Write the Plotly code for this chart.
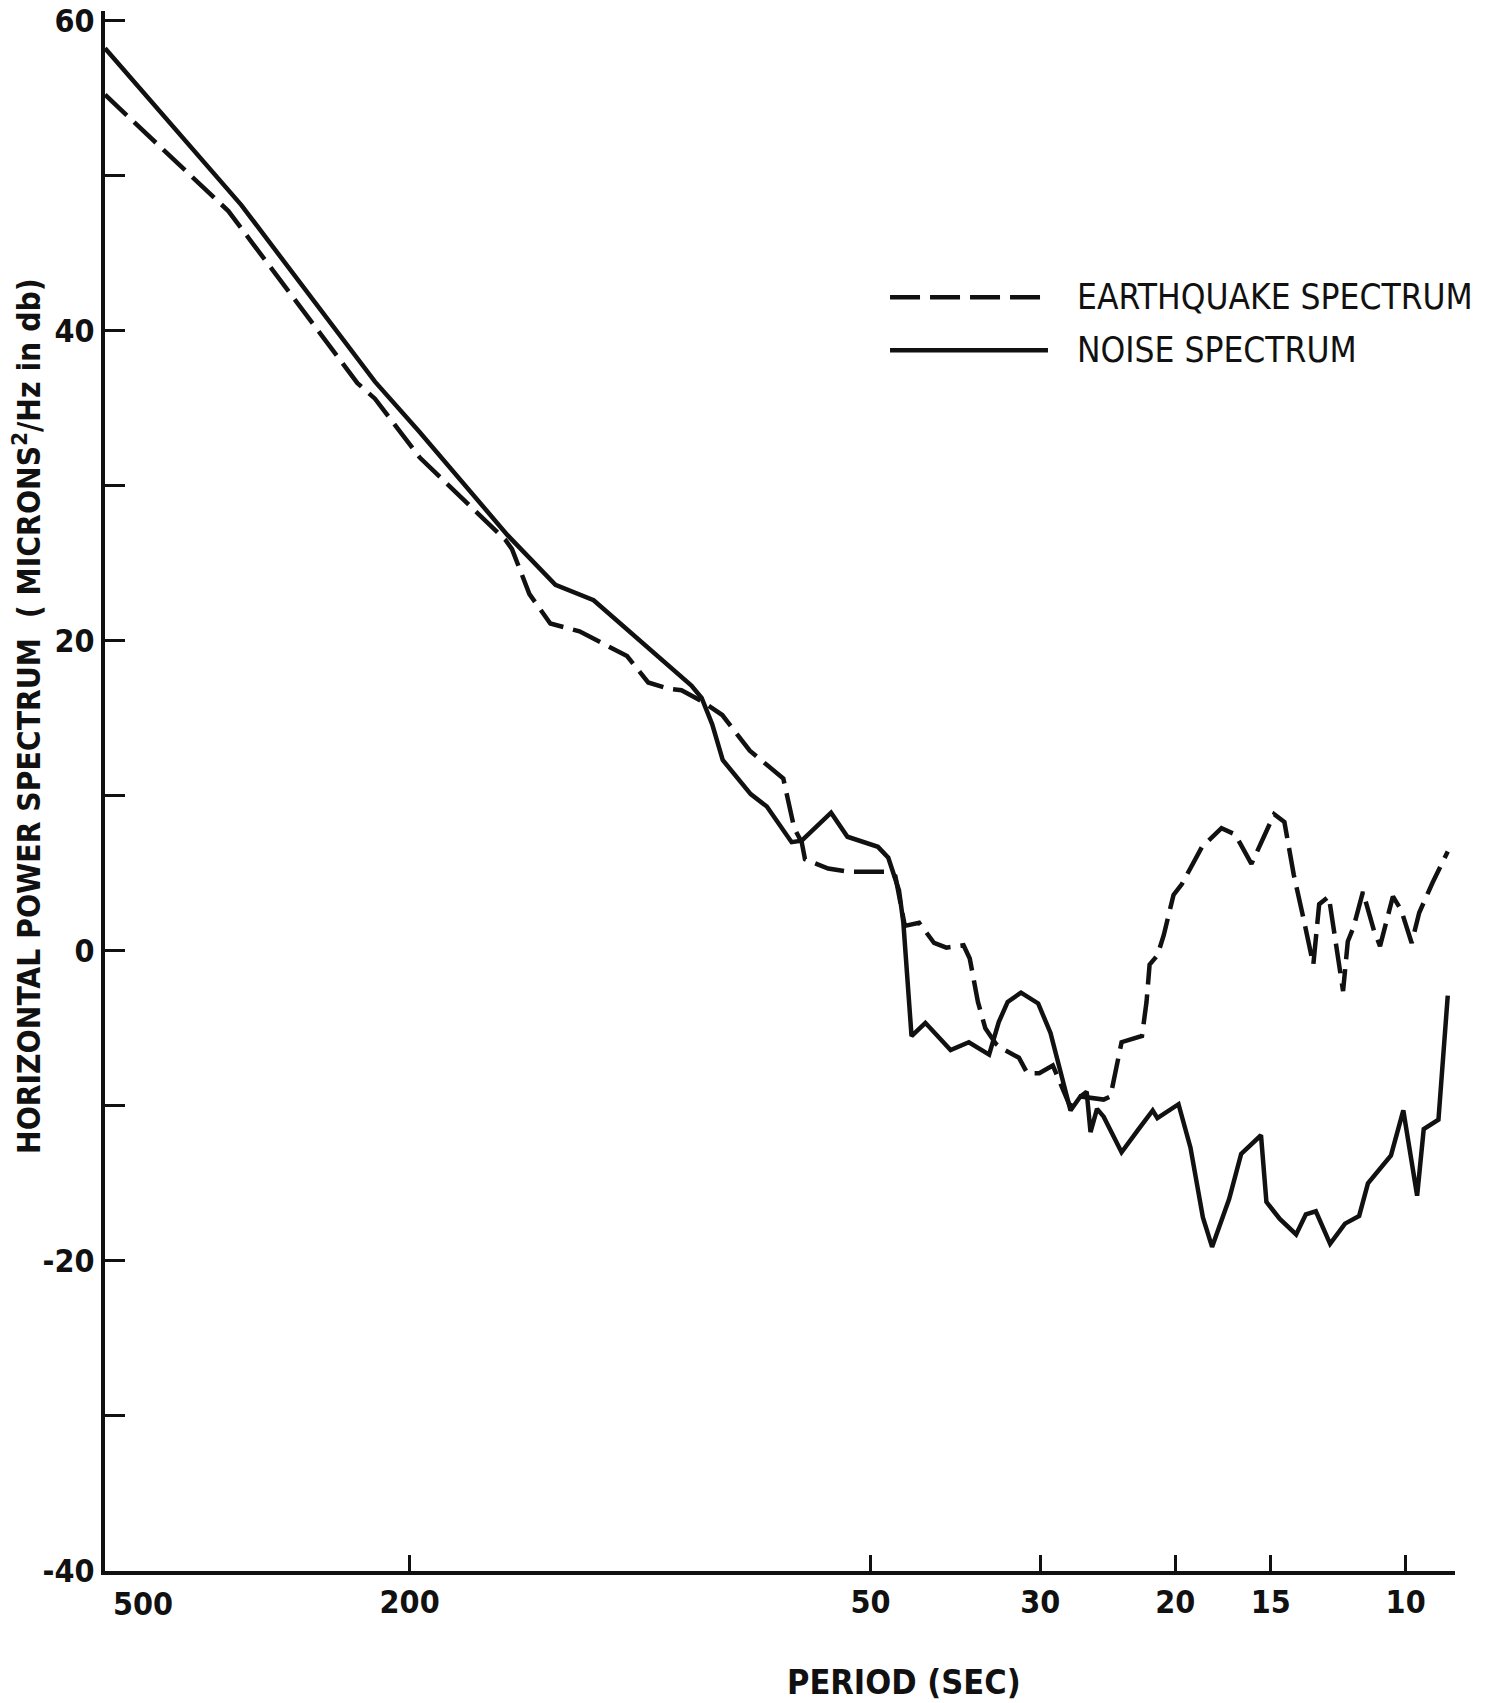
import math
import plotly.graph_objects as go

# ---- data (period in seconds, power in dB) ----
eq_period = [500, 345, 234, 222, 194, 150, 147, 139.5, 131, 120, 104, 97.6, 91.8, 88.3, 83.1,
             78.1, 71.9, 65.0, 62.9, 61.5, 60.9, 56.8, 53.5, 47.8, 46.4, 45.1, 43.2, 41.3,
             39.8, 37.8, 37.1, 36.2, 35.4, 34.3, 33.7, 32.0, 31.2, 30.1, 28.9, 27.4, 26.6,
             24.8, 24.3, 23.5, 22.1, 21.8, 21.6, 21.1, 20.7, 20.1, 19.6, 18.45, 17.4, 16.7,
             15.9, 14.85, 14.4, 14.0, 13.6, 13.2, 12.97, 12.6, 12.07, 11.9, 11.7, 11.37,
             11.0, 10.8, 10.39, 10.13, 9.82, 9.6, 9.22, 8.81]
eq_db = [55.2, 47.7, 36.6, 35.6, 31.8, 26.5, 25.9, 23.0, 21.1, 20.6, 19.0, 17.3, 16.9, 16.8, 16.1,
         15.2, 12.9, 11.1, 7.9, 7.0, 5.9, 5.3, 5.1, 5.1, 4.8, 1.6, 1.8, 0.5,
         0.2, 0.35, -0.5, -3.3, -5.0, -6.0, -6.3, -6.9, -7.9, -7.9, -7.4, -10.1, -9.4,
         -9.6, -9.4, -5.9, -5.5, -3.3, -0.9, -0.3, 1.0, 3.6, 4.3, 6.7, 7.9, 7.5,
         5.6, 8.8, 8.3, 4.9, 2.1, -0.9, 3.0, 3.5, -2.6, 0.6, 1.5, 3.8,
         1.3, 0.3, 3.5, 2.6, 0.5, 2.45, 4.4, 6.4]

noise_period = [500, 332, 222, 194.5, 149, 129, 115, 106, 85.7, 83.1, 80.5, 78.0, 71.7, 68.3,
                63.4, 61.5, 56.3, 53.6, 48.9, 47.4, 45.9, 45.3, 44.2, 42.4, 39.3, 37.2, 35.0,
                34.0, 33.1, 31.8, 30.2, 29.1, 28.3, 27.4, 26.6, 26.1, 25.8, 25.3, 24.8, 23.5,
                22.4, 21.4, 21.1, 19.8, 19.1, 18.4, 17.9, 17.0, 16.4, 15.45, 15.2, 14.6, 13.9,
                13.5, 13.1, 12.55, 12.0, 11.5, 11.2, 10.75, 10.45, 10.07, 9.66, 9.47, 9.06, 8.81]
noise_db = [58.2, 48.1, 36.7, 33.5, 26.8, 23.6, 22.6, 21.1, 17.1, 16.3, 14.6, 12.3, 10.1, 9.3,
            7.0, 7.1, 8.9, 7.35, 6.7, 6.0, 3.9, 1.8, -5.5, -4.65, -6.4, -5.9, -6.7,
            -4.6, -3.3, -2.7, -3.4, -5.3, -7.7, -10.3, -9.4, -9.1, -11.7, -10.2, -10.7, -13.0,
            -11.6, -10.3, -10.8, -9.9, -12.7, -17.2, -19.1, -16.0, -13.1, -11.9, -16.2, -17.3, -18.3,
            -17.0, -16.8, -18.9, -17.6, -17.1, -15.0, -13.9, -13.2, -10.3, -15.8, -11.5, -10.9, -2.9]

x_tickvals = [200, 50, 30, 20, 15, 10]
x_ticktext = ["200", "50", "30", "20", "15", "10"]
x_corner_tick = [500]          # tick at the corner; its label "500" is drawn beside it
first_x_label = "500"
y_tickvals = [-40, -20, 0, 20, 40, 60]
y_ticktext = ["-40", "-20", "0", "20", "40", "60"]
y_minor_tickvals = [-30, -10, 10, 30, 50]

legend_labels = ["EARTHQUAKE SPECTRUM", "NOISE SPECTRUM"]
x_title = "PERIOD (SEC)"
y_title = "HORIZONTAL POWER SPECTRUM  ( MICRONS<sup>2</sup>/Hz in db)"

FONT = "DejaVu Sans Condensed, DejaVu Sans, sans-serif"
INK = "#111111"
DASH = "30px,10px"

fig = go.Figure()
fig.add_trace(go.Scatter(x=eq_period, y=eq_db, mode="lines", name=legend_labels[0],
                         line=dict(color=INK, width=4.5, dash=DASH), showlegend=False))
fig.add_trace(go.Scatter(x=noise_period, y=noise_db, mode="lines", name=legend_labels[1],
                         line=dict(color=INK, width=4.5), showlegend=False))

# manual legend (long line samples as in the original)
LEG_Y = [0.8165, 0.7825]
fig.add_shape(type="line", xref="paper", yref="paper", x0=0.5815, x1=0.6985, y0=LEG_Y[0], y1=LEG_Y[0],
              line=dict(color=INK, width=4.5, dash=DASH))
fig.add_shape(type="line", xref="paper", yref="paper", x0=0.5815, x1=0.6985, y0=LEG_Y[1], y1=LEG_Y[1],
              line=dict(color=INK, width=4.5))
fig.add_annotation(xref="paper", yref="paper", x=0.7185, y=LEG_Y[0], xanchor="left", yanchor="middle",
                   text=legend_labels[0], showarrow=False, font=dict(family=FONT, size=35, color=INK))
fig.add_annotation(xref="paper", yref="paper", x=0.7185, y=LEG_Y[1], xanchor="left", yanchor="middle",
                   text=legend_labels[1], showarrow=False, font=dict(family=FONT, size=35, color=INK))

# "500" label sits to the right of the corner, as in the original
fig.add_annotation(xref="paper", yref="paper", x=0, y=0, xanchor="left", yanchor="top",
                   xshift=6, yshift=-12, text="<b>" + first_x_label + "</b>", showarrow=False,
                   font=dict(family=FONT, size=32, color=INK))

# axis titles
fig.add_annotation(xref="paper", yref="paper", x=0.5919, y=-0.0709, xanchor="center", yanchor="middle",
                   text="<b>" + x_title + "</b>", showarrow=False,
                   font=dict(family=FONT, size=34, color=INK))
fig.add_annotation(xref="paper", yref="paper", x=-0.0578, y=0.548, xanchor="center", yanchor="middle",
                   text="<b>" + y_title + "</b>", textangle=-90, showarrow=False,
                   font=dict(family=FONT, size=31.5, color=INK))

fig.update_xaxes(type="log", range=[math.log10(500), math.log10(8.62)],
                 tickmode="array", tickvals=x_tickvals, ticktext=x_ticktext,
                 ticks="inside", ticklen=16, tickwidth=3, tickcolor=INK, automargin=False,
                 minor=dict(tickmode="array", tickvals=x_corner_tick, ticks="inside", ticklen=16,
                            tickwidth=3, tickcolor=INK, showgrid=False),
                 showline=True, linewidth=4, linecolor=INK, showgrid=False, zeroline=False,
                 tickfont=dict(family=FONT, size=32, color=INK, weight="bold"))
fig.update_yaxes(range=[-40, 60.6], tickmode="array", tickvals=y_tickvals, ticktext=y_ticktext,
                 ticks="inside", ticklen=20, tickwidth=3, tickcolor=INK, automargin=False,
                 minor=dict(tickmode="array", tickvals=y_minor_tickvals, ticks="inside", ticklen=20,
                            tickwidth=3, tickcolor=INK, showgrid=False),
                 showline=True, linewidth=4, linecolor=INK, showgrid=False, zeroline=False,
                 tickfont=dict(family=FONT, size=32, color=INK, weight="bold"))

fig.update_layout(width=1491, height=1703, margin=dict(l=105, r=36, t=11, b=132),
                  paper_bgcolor="white", plot_bgcolor="white",
                  font=dict(family=FONT, color=INK))

fig.write_html("out.html")
